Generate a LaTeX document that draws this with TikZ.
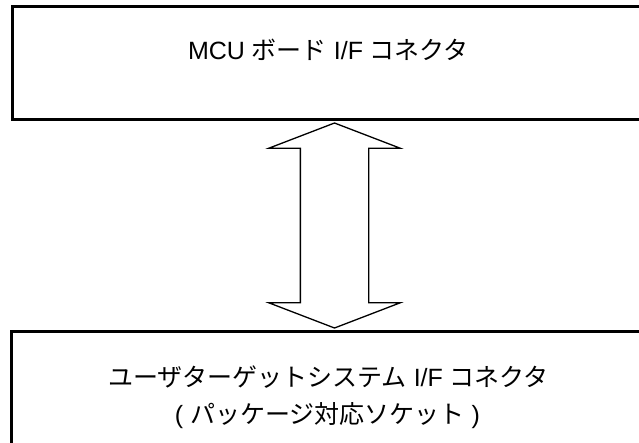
\documentclass[tikz,border=0pt]{standalone}
\usepackage{fontspec}
\setmainfont{Liberation Sans}
\newfontfamily\jpfam{Noto Sans CJK JP}
\newcommand{\J}[1]{{\jpfam #1}}
\usetikzlibrary{shapes.arrows}
\begin{document}
\begin{tikzpicture}[x=1pt,y=-1pt,
  box/.style={draw,line width=3pt,rectangle,inner sep=0pt},
  lbl/.style={font=\fontsize{25}{30}\selectfont,inner sep=0pt,anchor=base},
  link/.style={double arrow,draw,line width=1.3pt,inner sep=0pt,inner ysep=33.5pt,
    double arrow head extend=31.5pt,double arrow tip angle=138,minimum height=205pt}]
\useasboundingbox (0,0) rectangle (639,442);
\clip (0,0) rectangle (639,442);
\node[box,minimum width=630pt,minimum height=113.5pt] (mcu) at (327,62.75) {};
\node[box,minimum width=631pt,minimum height=124pt] (user) at (326.6,393.3) {};
\node[lbl] (mcutext) at (328.5,59) {MCU \J{ボード} I/F \J{コネクタ}};
\node[lbl] (usertext1) at (328.5,386) {\J{ユーザターゲットシステム} I/F \J{コネクタ}};
\node[lbl] (usertext2) at (327.5,423) {( \J{パッケージ対応ソケット} )};
\node[link,rotate=90] (arr) at (334.5,225.5) {};
\end{tikzpicture}
\end{document}
